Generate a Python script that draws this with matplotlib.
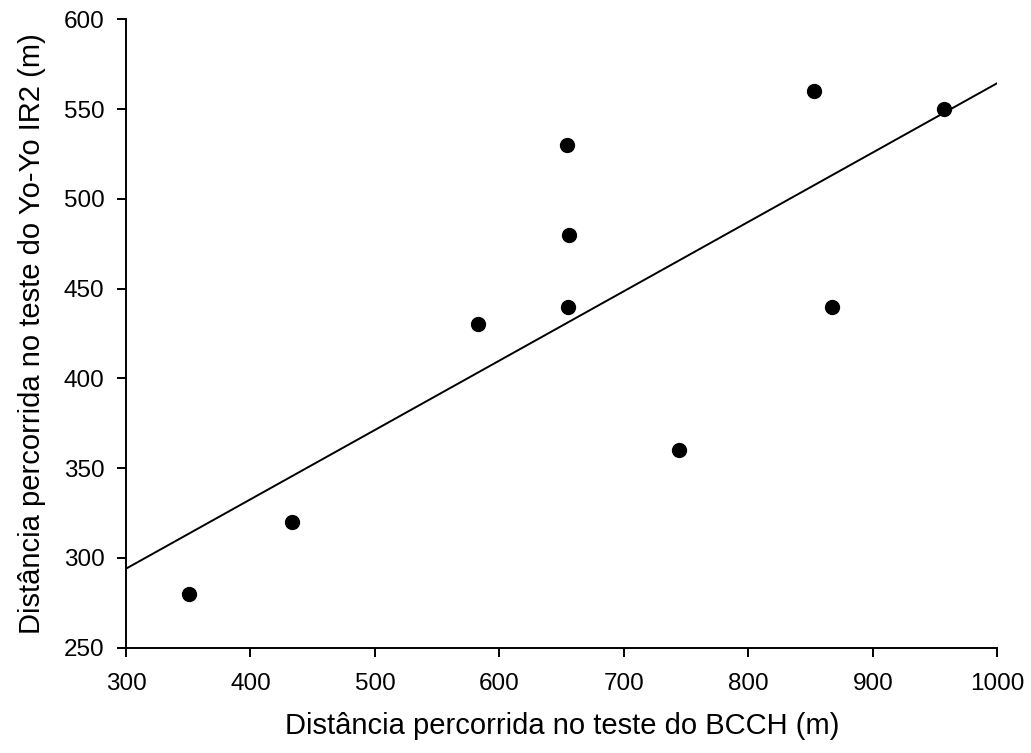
import numpy as np
import matplotlib.pyplot as plt

plt.rcParams['font.family'] = ['Liberation Sans', 'DejaVu Sans']

# distances (m)
bcch = [351, 433, 583, 654, 655, 656, 744, 853, 867, 957]
yoyo = [280, 320, 430, 530, 440, 480, 360, 560, 440, 550]

x_ticks = [300, 400, 500, 600, 700, 800, 900, 1000]
y_ticks = [250, 300, 350, 400, 450, 500, 550, 600]

fig = plt.figure(figsize=(10.31, 7.53), dpi=100)
ax = fig.add_axes([0.1222, 0.140, 0.8453, 0.8344])

ax.scatter(bcch, yoyo, s=100, color='black', zorder=3)

# least squares line over the whole axis
slope, intercept = np.polyfit(bcch, yoyo, 1)
xl = np.array([300, 1000])
ax.plot(xl, slope * xl + intercept, color='black', lw=1.4)

ax.set_xlim(300, 1000)
ax.set_ylim(250, 600)
ax.set_xticks(x_ticks)
ax.set_yticks(y_ticks)
for side in ['top', 'right']:
    ax.spines[side].set_visible(False)
for side in ['left', 'bottom']:
    ax.spines[side].set_linewidth(1.4)
ax.tick_params(direction='out', length=6.5, width=1.4, labelsize=17.5)
ax.tick_params(axis='x', pad=12)
ax.tick_params(axis='y', pad=9)

ax.set_xlabel('Distância percorrida no teste do BCCH (m)', fontsize=21, labelpad=12)
ax.set_ylabel('Distância percorrida no teste do Yo-Yo IR2 (m)', fontsize=21, labelpad=13)

fig.savefig('out.png', dpi=100)
